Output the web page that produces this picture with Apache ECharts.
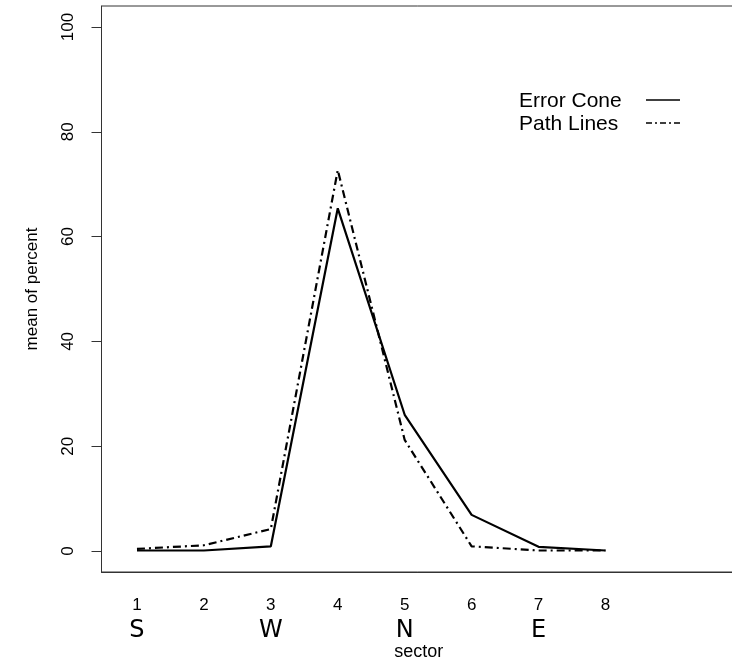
<!DOCTYPE html>
<html>
<head>
<meta charset="utf-8">
<script src="https://cdn.jsdelivr.net/npm/echarts@6/dist/echarts.min.js"></script>
<style>
  html, body { margin: 0; padding: 0; background: #fff; }
  #chart { width: 732px; height: 660px; }
</style>
</head>
<body>
<div id="chart"></div>
<script>
// sectors and their compass letters
const sectors = [1, 2, 3, 4, 5, 6, 7, 8];
const compass = ['S', '', 'W', '', 'N', '', 'E', ''];
const yTicks = [0, 20, 40, 60, 80, 100];

// mean of percent per sector
const errorCone = [0.1, 0.1, 0.9, 65.4, 26.0, 6.9, 0.8, 0.1];
const pathLines = [0.4, 1.1, 4.2, 72.7, 21.2, 0.9, 0.1, 0.1];
const seriesNames = ['Error Cone', 'Path Lines'];

const font = 'Liberation Sans, Arial, sans-serif';
const axisColor = '#333';
const dash = [8, 4, 2, 4];

const chart = echarts.init(document.getElementById('chart'), null, { renderer: 'canvas' });

const pairs = arr => sectors.map((s, i) => [s, arr[i]]);

// legend drawn by hand: text on the left, line sample on the right (R style)
const legendItems = [];
seriesNames.forEach((name, i) => {
  const y = 100 + i * 23;
  legendItems.push({
    type: 'text', left: 519, top: y - 9,
    style: { text: name, fontFamily: font, fontSize: 21, fill: '#000' }
  });
  legendItems.push({
    type: 'line',
    shape: { x1: 646, y1: y, x2: 680, y2: y },
    style: { stroke: '#000', lineWidth: 1.3, lineDash: i === 0 ? null : [6, 3, 2, 3] }
  });
});

chart.setOption({
  animation: false,
  backgroundColor: '#fff',
  grid: {
    left: 101.5, top: 6, right: -4, bottom: 88,
    outerBoundsMode: 'none',
    show: true, borderColor: axisColor, borderWidth: 1
  },
  graphic: legendItems,
  xAxis: [
    {
      type: 'value', min: 0.47, max: 9.95,
      axisLine: { show: true, onZero: false, lineStyle: { color: axisColor, width: 1 } },
      axisTick: { show: false },
      splitLine: { show: false },
      axisLabel: {
        customValues: sectors, margin: 25,
        fontFamily: font, fontSize: 17, color: '#000'
      },
      name: 'sector', nameLocation: 'middle', nameGap: 71,
      nameTextStyle: { fontFamily: font, fontSize: 18, color: '#000' }
    },
    {
      type: 'value', min: 0.47, max: 9.95, position: 'bottom',
      axisLine: { show: false, onZero: false },
      axisTick: { show: false },
      splitLine: { show: false },
      axisLabel: {
        customValues: sectors, margin: 47,
        formatter: v => compass[sectors.indexOf(v)] || '',
        fontFamily: 'DejaVu Sans, sans-serif', fontSize: 24, color: '#000'
      }
    }
  ],
  yAxis: {
    type: 'value', min: -4, max: 104,
    axisLine: { show: true, onZero: false, lineStyle: { color: axisColor, width: 1 } },
    axisTick: { show: true, customValues: yTicks, length: 10, lineStyle: { color: axisColor } },
    splitLine: { show: false },
    axisLabel: {
      customValues: yTicks, rotate: 90, margin: 25,
      fontFamily: font, fontSize: 17, color: '#000'
    },
    name: 'mean of percent', nameLocation: 'middle', nameGap: 61,
    nameTextStyle: { fontFamily: font, fontSize: 17, color: '#000' }
  },
  series: [
    {
      name: seriesNames[0], type: 'line', xAxisIndex: 0,
      data: pairs(errorCone), symbol: 'none',
      lineStyle: { color: '#000', width: 2.2, type: 'solid' }
    },
    {
      name: seriesNames[1], type: 'line', xAxisIndex: 0,
      data: pairs(pathLines), symbol: 'none',
      lineStyle: { color: '#000', width: 2.2, type: dash }
    }
  ]
});
</script>
</body>
</html>
